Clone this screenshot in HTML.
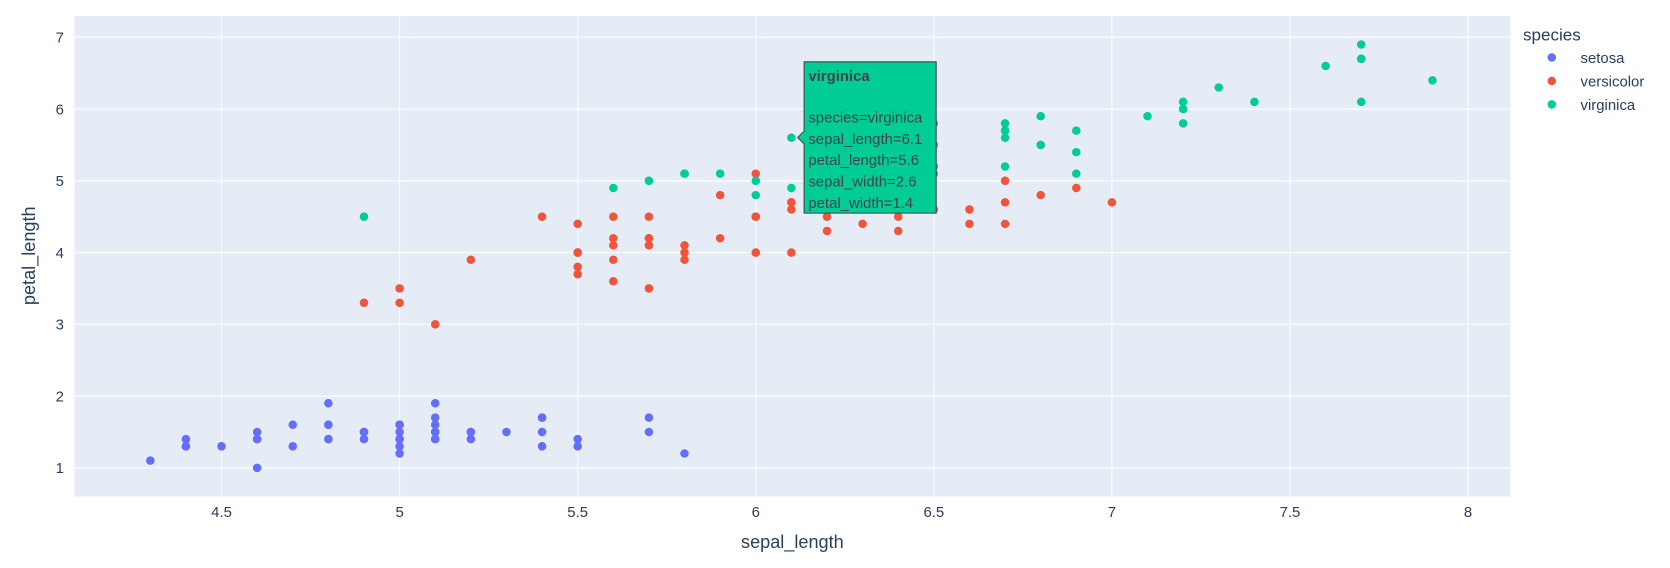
<!DOCTYPE html>
<html><head><meta charset="utf-8"><style>
body{margin:0;background:#fff;font-family:"Liberation Sans",sans-serif;overflow:hidden;}
svg{display:block;}
svg text{font-family:"Liberation Sans",sans-serif;fill:#2a3f5f;}
</style></head><body>
<svg id="chart" width="1670" height="568" viewBox="0 0 1568 533" preserveAspectRatio="none" xmlns="http://www.w3.org/2000/svg">
<rect x="0" y="0" width="1568" height="533" fill="#fff"/>
<rect x="70" y="15" width="1348" height="451" fill="#e5ecf6"/>
<g id="grid"></g>
<g id="points"></g>
<text x="744" y="514" font-size="17" text-anchor="middle">sepal_length</text>
<text transform="translate(33,240) rotate(-90)" font-size="17" text-anchor="middle">petal_length</text>
<g>
<text x="1430" y="38" font-size="16">species</text>
<g><circle cx="1457" cy="54" r="4" fill="#636efa"/><text x="1484" y="59" font-size="14">setosa</text></g>
<g><circle cx="1457" cy="76" r="4" fill="#EF553B"/><text x="1484" y="81" font-size="14">versicolor</text></g>
<g><circle cx="1457" cy="98" r="4" fill="#00cc96"/><text x="1484" y="103" font-size="14">virginica</text></g>
</g>
<g>
<path d="M755,58 L879,58 L879,200 L755,200 L755,135 L749,129 L755,123 Z" fill="#00cc96" stroke="#444" stroke-width="1"/>
<text x="759" y="76" font-size="14" font-weight="bold" style="fill:#444">virginica</text>
<text x="759" y="115" font-size="14" style="fill:#444">species=virginica</text>
<text x="759" y="135" font-size="14" style="fill:#444">sepal_length=6.1</text>
<text x="759" y="155" font-size="14" style="fill:#444">petal_length=5.6</text>
<text x="759" y="175" font-size="14" style="fill:#444">sepal_width=2.6</text>
<text x="759" y="195" font-size="14" style="fill:#444">petal_width=1.4</text>
</g>
</svg>
<script>
const xTicks=[4.5,5,5.5,6,6.5,7,7.5,8];
const yTicks=[1,2,3,4,5,6,7];
const setosaX=[5.1,4.9,4.7,4.6,5.0,5.4,4.6,5.0,4.4,4.9,5.4,4.8,4.8,4.3,5.8,5.7,5.4,5.1,5.7,5.1,5.4,5.1,4.6,5.1,4.8,5.0,5.0,5.2,5.2,4.7,4.8,5.4,5.2,5.5,4.9,5.0,5.5,4.9,4.4,5.1,5.0,4.5,4.4,5.0,5.1,4.8,5.1,4.6,5.3,5.0];
const setosaY=[1.4,1.4,1.3,1.5,1.4,1.7,1.4,1.5,1.4,1.5,1.5,1.6,1.4,1.1,1.2,1.5,1.3,1.4,1.7,1.5,1.7,1.5,1.0,1.7,1.9,1.6,1.6,1.5,1.4,1.6,1.6,1.5,1.5,1.4,1.5,1.2,1.3,1.5,1.3,1.5,1.3,1.3,1.3,1.6,1.9,1.4,1.6,1.4,1.5,1.4];
const versicolorX=[7.0,6.4,6.9,5.5,6.5,5.7,6.3,4.9,6.6,5.2,5.0,5.9,6.0,6.1,5.6,6.7,5.6,5.8,6.2,5.6,5.9,6.1,6.3,6.1,6.4,6.6,6.8,6.7,6.0,5.7,5.5,5.5,5.8,6.0,5.4,6.0,6.7,6.3,5.6,5.5,5.5,6.1,5.8,5.0,5.6,5.7,5.7,6.2,5.1,5.7];
const versicolorY=[4.7,4.5,4.9,4.0,4.6,4.5,4.7,3.3,4.6,3.9,3.5,4.2,4.0,4.7,3.6,4.4,4.5,4.1,4.5,3.9,4.8,4.0,4.9,4.7,4.3,4.4,4.8,5.0,4.5,3.5,3.8,3.7,3.9,5.1,4.5,4.5,4.7,4.4,4.1,4.0,4.4,4.6,4.0,3.3,4.2,4.2,4.2,4.3,3.0,4.1];
const virginicaX=[6.3,5.8,7.1,6.3,6.5,7.6,4.9,7.3,6.7,7.2,6.5,6.4,6.8,5.7,5.8,6.4,6.5,7.7,7.7,6.0,6.9,5.6,7.7,6.3,6.7,7.2,6.2,6.1,6.4,7.2,7.4,7.9,6.4,6.3,6.1,7.7,6.3,6.4,6.0,6.9,6.7,6.9,5.8,6.8,6.7,6.7,6.3,6.5,6.2,5.9];
const virginicaY=[6.0,5.1,5.9,5.6,5.8,6.6,4.5,6.3,5.8,6.1,5.1,5.3,5.5,5.0,5.1,5.3,5.5,6.7,6.9,5.0,5.7,4.9,6.7,4.9,5.7,6.0,4.8,4.9,5.6,5.8,6.1,6.4,5.6,5.1,5.6,6.1,5.6,5.5,4.8,5.4,5.6,5.1,5.1,5.9,5.7,5.2,5.0,5.2,5.4,5.1];
const NS='http://www.w3.org/2000/svg';
function xs(v){return 208+(v-4.5)*334.4;}
function ys(v){return 439-(v-1)*67.33;}
const grid=document.getElementById('grid');
xTicks.forEach(t=>{
  const l=document.createElementNS(NS,'line');
  
  
  l.setAttribute('x1',xs(t));l.setAttribute('x2',xs(t));l.setAttribute('y1',15);l.setAttribute('y2',466);
  l.setAttribute('stroke','#fff');l.setAttribute('stroke-width',1);grid.appendChild(l);
  const tx=document.createElementNS(NS,'text');
  
  
  tx.setAttribute('x',xs(t));tx.setAttribute('y',485);tx.setAttribute('text-anchor','middle');tx.setAttribute('font-size','14');
  tx.textContent=String(t);grid.appendChild(tx);
});
yTicks.forEach(t=>{
  const l=document.createElementNS(NS,'line');
  
  
  l.setAttribute('x1',70);l.setAttribute('x2',1418);l.setAttribute('y1',ys(t));l.setAttribute('y2',ys(t));
  l.setAttribute('stroke','#fff');l.setAttribute('stroke-width',1);grid.appendChild(l);
  const tx=document.createElementNS(NS,'text');
  
  
  tx.setAttribute('x',60);tx.setAttribute('y',ys(t)+5);tx.setAttribute('text-anchor','end');tx.setAttribute('font-size','14');
  tx.textContent=String(t);grid.appendChild(tx);
});
const pts=document.getElementById('points');
function draw(X,Y,color,name){
  X.forEach((x,i)=>{
    const c=document.createElementNS(NS,'circle');
    
    
    c.setAttribute('cx',xs(x));c.setAttribute('cy',ys(Y[i]));c.setAttribute('r',4);c.setAttribute('fill',color);
    pts.appendChild(c);
  });
}
draw(setosaX,setosaY,'#636efa','setosa');
draw(versicolorX,versicolorY,'#EF553B','versicolor');
draw(virginicaX,virginicaY,'#00cc96','virginica');
</script>
</body></html>
